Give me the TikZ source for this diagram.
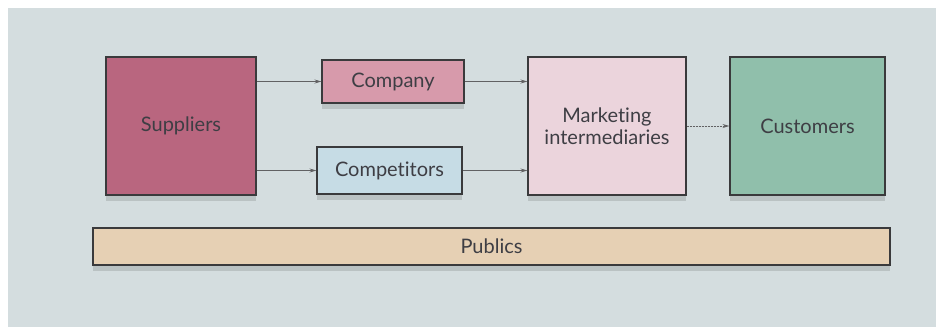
\documentclass[tikz,border=0pt]{standalone}
\usepackage{fontspec}
\setmainfont{Lato}[Ligatures={NoCommon}]
\usetikzlibrary{arrows.meta,shadows}
\definecolor{bg}{HTML}{D4DDDF}
\definecolor{edge}{HTML}{3A3A3C}
\definecolor{txt}{HTML}{3E3E44}
\definecolor{supc}{HTML}{B9667F}
\definecolor{comc}{HTML}{D79AAB}
\definecolor{cptc}{HTML}{C6DCE5}
\definecolor{mic}{HTML}{EBD4DC}
\definecolor{cusc}{HTML}{90BFAB}
\definecolor{pubc}{HTML}{E6D0B4}
\tikzset{
  box/.style={draw=edge, line width=1.1pt, text=txt, align=center, inner sep=0pt,
    font=\fontsize{20}{22}\selectfont,
    drop shadow={shadow xshift=0pt, shadow yshift=-6pt, fill=black, opacity=0.12}},
  link/.style={draw=edge!80, line width=0.8pt, -{Stealth[length=7pt,width=4pt]}},
  dlink/.style={link, dash pattern=on 2pt off 1pt}
}
\begin{document}
\begin{tikzpicture}[x=1pt,y=-1pt]
\fill[white] (0,0) rectangle (936,327);
\fill[bg] (8,8) rectangle (936,327);
\useasboundingbox (0,0) rectangle (936,327);
\node[box, fill=supc, minimum width=150pt, minimum height=138pt] (sup) at (181,126) {Suppliers};
\node[box, fill=comc, minimum width=142pt, minimum height=43pt] (com) at (393,81.5) {Company};
\node[box, fill=cptc, minimum width=145pt, minimum height=47pt] (cpt) at (389.5,170.5) {Competitors};
\node[box, fill=mic, minimum width=158pt, minimum height=138pt] (mi) at (607,126) {Marketing\\intermediaries};
\node[box, fill=cusc, minimum width=155pt, minimum height=138pt] (cus) at (807.5,126) {Customers};
\node[box, fill=pubc, minimum width=797pt, minimum height=37pt] (pub) at (491.5,246.5) {Publics};
\draw[link] (sup.east |- com.west) -- (com.west);
\draw[link] (sup.east |- cpt.west) -- (cpt.west);
\draw[link] (com.east) -- (com.east -| mi.west);
\draw[link] (cpt.east) -- (cpt.east -| mi.west);
\draw[dlink] (mi.east) -- (cus.west);
\end{tikzpicture}
\end{document}
